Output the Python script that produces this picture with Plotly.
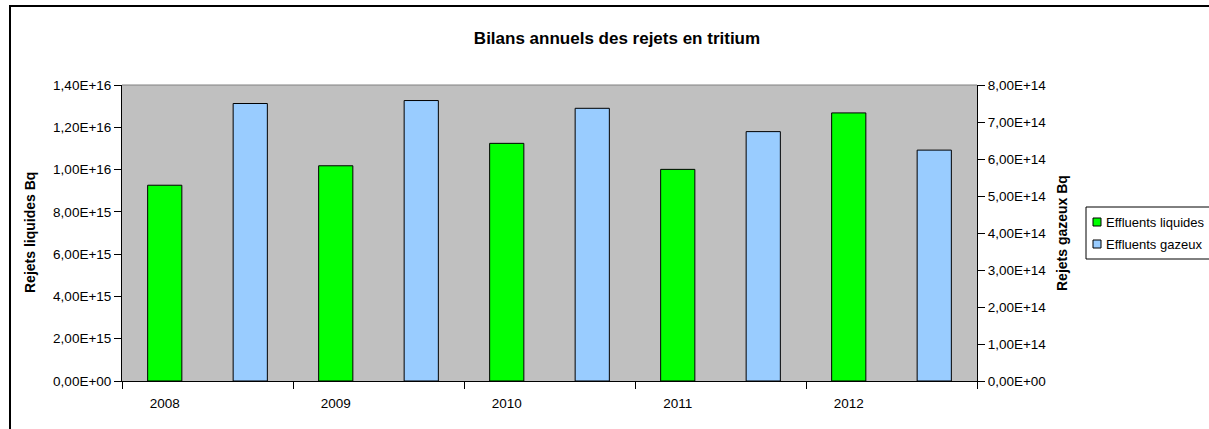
import plotly.graph_objects as go

# ---- data ----
years = ["2008", "2009", "2010", "2011", "2012"]
liquides = [9.26e15, 1.018e16, 1.124e16, 1.001e16, 1.268e16]   # Bq, left axis
gazeux = [7.50e14, 7.58e14, 7.37e14, 6.74e14, 6.24e14]         # Bq, right axis
left_ticks = [0, 2e15, 4e15, 6e15, 8e15, 1.0e16, 1.2e16, 1.4e16]
right_ticks = [0, 1e14, 2e14, 3e14, 4e14, 5e14, 6e14, 7e14, 8e14]

title = "Bilans annuels des rejets en tritium"
left_title = "Rejets liquides Bq"
right_title = "Rejets gazeux Bq"
names = ["Effluents liquides", "Effluents gazeux"]
colors = ["#00FF00", "#99CCFF"]


def fr_sci(v):
    return f"{v:.2E}".replace(".", ",")


# Excel-style layout: each year occupies two category slots (liquid, gas)
x_liq = [2 * i for i in range(len(years))]
x_gaz = [2 * i + 1 for i in range(len(years))]
n_slots = 2 * len(years)

FONT = "Liberation Sans, Arial, sans-serif"

fig = go.Figure()
fig.add_trace(go.Bar(
    x=x_liq, y=liquides, name=names[0], yaxis="y",
    width=0.4, offset=-0.2,
    marker=dict(color=colors[0], line=dict(color="black", width=1)),
))
fig.add_trace(go.Bar(
    x=x_gaz, y=gazeux, name=names[1], yaxis="y2",
    width=0.4, offset=-0.2,
    marker=dict(color=colors[1], line=dict(color="black", width=1)),
))

W, H = 1209, 429
L, R, T, B = 122, 232, 85, 48
pw, ph = W - L - R, H - T - B


def px_x(px):
    return (px - L) / pw


def px_y(py):
    return (H - B - py) / ph


annotations = [
    dict(text=f"<b>{left_title}</b>", x=px_x(30), y=0.5, xref="paper", yref="paper",
         textangle=-90, showarrow=False, xanchor="center", yanchor="middle",
         font=dict(size=14)),
    dict(text=f"<b>{right_title}</b>", x=px_x(1062), y=0.5, xref="paper", yref="paper",
         textangle=-90, showarrow=False, xanchor="center", yanchor="middle",
         font=dict(size=14)),
]
shapes = [
    dict(type="line", xref="paper", yref="paper", x0=0, x1=1, y0=1, y1=1,
         line=dict(color="#808080", width=1), layer="above"),
    dict(type="rect", xref="paper", yref="paper",
         x0=px_x(10), x1=px_x(W + 20), y0=px_y(H + 20), y1=px_y(6),
         line=dict(color="black", width=2), layer="below"),
    # legend box (Excel style, runs off the right edge)
    dict(type="rect", xref="paper", yref="paper",
         x0=px_x(1086), x1=px_x(W + 10), y0=px_y(259), y1=px_y(207),
         line=dict(color="black", width=1), fillcolor="white", layer="above"),
]
legend_rows = [222, 244]
for name, col, yc in zip(names, colors, legend_rows):
    shapes.append(dict(type="rect", xref="paper", yref="paper",
                       x0=px_x(1093), x1=px_x(1101), y0=px_y(yc + 4), y1=px_y(yc - 4),
                       line=dict(color="black", width=1), fillcolor=col, layer="above"))
    annotations.append(dict(text=name, x=px_x(1104), y=px_y(yc), xref="paper", yref="paper",
                            showarrow=False, xanchor="left", yanchor="middle",
                            font=dict(size=13)))

fig.update_layout(
    width=W, height=H,
    margin=dict(l=L, r=R, t=T, b=B, pad=0, autoexpand=False),
    paper_bgcolor="white",
    plot_bgcolor="#C0C0C0",
    barmode="overlay",
    showlegend=False,
    font=dict(family=FONT, size=14, color="black"),
    title=dict(
        text=f"<b>{title}</b>", font=dict(size=17, family=FONT, color="black"),
        x=px_x(617), xref="paper", xanchor="center",
        y=1 - 38 / H, yref="container", yanchor="middle",
    ),
    xaxis=dict(
        range=[-0.5, n_slots - 0.5],
        tickvals=x_liq, ticktext=years,
        ticks="", showgrid=False, zeroline=False,
        showline=True, linecolor="black", linewidth=1,
        tickfont=dict(size=13.5),
        ticklabelstandoff=10,
        minor=dict(tick0=-0.5, dtick=2, ticks="outside", ticklen=7,
                   tickcolor="black", showgrid=False),
        fixedrange=True,
    ),
    yaxis=dict(
        range=[0, left_ticks[-1]],
        tickvals=left_ticks, ticktext=[fr_sci(v) for v in left_ticks],
        ticks="outside", ticklen=7, tickcolor="black",
        showgrid=False, zeroline=False,
        showline=True, linecolor="black", linewidth=1,
        tickfont=dict(size=13.5),
    ),
    yaxis2=dict(
        range=[0, right_ticks[-1]], overlaying="y", side="right",
        tickvals=right_ticks, ticktext=[fr_sci(v) for v in right_ticks],
        ticks="outside", ticklen=7, tickcolor="black",
        showgrid=False, zeroline=False,
        showline=True, linecolor="black", linewidth=1,
        tickfont=dict(size=13.5),
    ),
    annotations=annotations,
    shapes=shapes,
)

fig.write_html("out.html", config={"displayModeBar": False},
               post_script="document.body.style.margin='0';")
